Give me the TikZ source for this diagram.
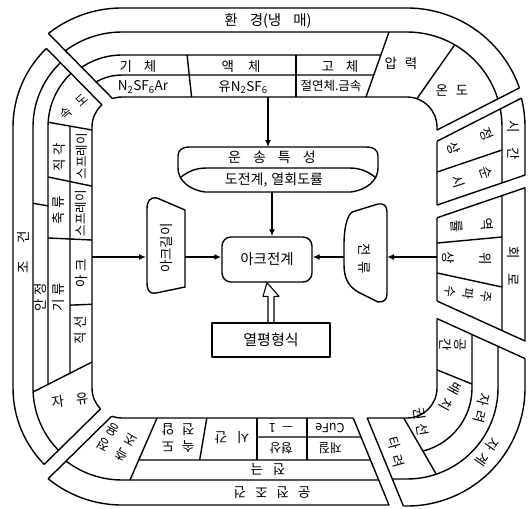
\documentclass[tikz,border=0pt]{standalone}
\usepackage{fontspec}
\newfontfamily\kr{Noto Sans CJK KR}
\usetikzlibrary{calc,arrows.meta}
\def\Lz{92}\def\Tz{97}\def\Rz{437}\def\Bz{418}\def\rz{30}
\newcommand\rrA[1]{[rounded corners={(\rz+#1)*1pt}] (\Lz-#1,\Tz-#1) rectangle (\Rz+#1,\Bz+#1)}
\newcommand\rrB[1]{[rounded corners={(\rz+#1)*1pt}] (\Rz+#1,\Tz-#1) rectangle (\Lz-#1,\Bz+#1)}
\newcommand\wedgeclip[2]{%
  \coordinate (wa) at ($(#1-i)!6!(#1-o)$);
  \coordinate (wb) at ($(#2-i)!6!(#2-o)$);
  \coordinate (wm) at ($(C)!1.5!($(wa)!0.5!(wb)$)$);
  \clip (C) -- (#1-i) -- (wa) -- (wm) -- (wb) -- (#2-i) -- cycle;}
\newcommand\track[3]{\begin{scope}\wedgeclip{#1}{#2}\draw \rrA{#3};\end{scope}}
\newcommand\dv[4]{\begin{scope}\clip \rrA{#4} \rrB{#3};\draw #1 -- #2;\end{scope}}
\newcommand\cut[3]{\dv{(#1-i)}{(#1-o)}{#2}{#3}}
\begin{document}
\begin{tikzpicture}[x=1pt,y=-1pt,line width=1.4pt,line join=round,
  t/.style={font=\kr\fontsize{13.5}{13.5}\selectfont,inner sep=0pt,align=center},
  ts/.style={font=\kr\fontsize{12.5}{12.5}\selectfont,inner sep=0pt,align=center},
  arr/.style={-{Latex[length=7pt,width=6pt]}}]
\useasboundingbox (0,0) rectangle (528,509);
\coordinate (C) at (265,258);
% cut lines (i inside hollow, o outside)
\coordinate (TLa-i) at (127.5,130.8); \coordinate (TLa-o) at (29.5,31.3);
\coordinate (TLb-i) at (136,122.4);   \coordinate (TLb-o) at (38,22.9);
\coordinate (TRa-i) at (414.7,141.4); \coordinate (TRa-o) at (538.4,78.2);
\coordinate (TRb-i) at (419.3,150.3); \coordinate (TRb-o) at (543,87.1);
\coordinate (R1-i) at (413.4,213.1);  \coordinate (R1-o) at (539.2,170.2);
\coordinate (R2-i) at (417.3,224.5);  \coordinate (R2-o) at (543.1,181.6);
\coordinate (R3-i) at (414.3,290.7);  \coordinate (R3-o) at (538.7,347.2);
\coordinate (R4-i) at (407.7,305.3);  \coordinate (R4-o) at (532.1,361.8);
\coordinate (BRb-i) at (356.5,391.9); \coordinate (BRb-o) at (408.7,518.9);
\coordinate (BRa-i) at (344.5,396.8); \coordinate (BRa-o) at (396.7,523.8);
\coordinate (BLa-i) at (135.8,392.5); \coordinate (BLa-o) at (44.3,482.5);
\coordinate (BLb-i) at (126.7,383.2); \coordinate (BLb-o) at (35.2,473.2);
% inner dividers used as wedge edges
\coordinate (P1-i) at (359.3,115.8); \coordinate (P1-o) at (394,17.9);
\coordinate (P2-i) at (404.5,116.4); \coordinate (P2-o) at (464.6,30.7);
\coordinate (Dc1-i) at (165,399.7);  \coordinate (Dc1-o) at (124,493.8);
\coordinate (D3-i) at (257,400);     \coordinate (D3-o) at (257,470);
\coordinate (Dz-i) at (114.3,350.7); \coordinate (Dz-o) at (23.6,396.8);
\coordinate (Dk-i) at (392,397.7);   \coordinate (Dk-o) at (445,489.3);
\coordinate (Dsd-i) at (110,133.2);  \coordinate (Dsd-o) at (30,119);

% ---------- top group: environment ----------
\track{TLb}{TRa}{0}\track{TLb}{TRa}{65}\track{TLb}{TRa}{89}
\track{TLb}{P1}{22}\track{TLb}{P1}{42}
\cut{TLb}{0}{89}\cut{TRa}{0}{89}
\dv{(P1-i)}{(P1-o)}{0}{65}\dv{(P2-i)}{(P2-o)}{0}{65}
\dv{(193,110)}{(186,45)}{0}{42}\dv{(296,110)}{(296,45)}{0}{42}
\node[t,font=\kr\fontsize{14.5}{14.5}\selectfont] (env) at (268,21) {환\hspace{12pt}경(냉\hspace{12pt}매)};
\node[t] (gas) at (138,66) {기\hspace{12pt}체};
\node[t] (liq) at (241,66) {액\hspace{14pt}체};
\node[t] (sol) at (340,66) {고\hspace{12pt}체};
\node[t] (gas2) at (143,87) {N\textsubscript{2}SF\textsubscript{6}Ar};
\node[t] (liq2) at (243,87) {유N\textsubscript{2}SF\textsubscript{6}};
\node[ts] (sol2) at (331,86) {절연체.금속};
\node[t] (pres) at (401,63) {압\hspace{8pt}력};
\node[t] (temp) at (452,90) {온\hspace{8pt}도};

% ---------- time group ----------
\track{TRb}{R1}{0}\track{TRb}{R1}{65}\track{TRb}{R1}{88}
\cut{TRb}{0}{88}\cut{R1}{0}{88}
\dv{(420,177.8)}{(515,145.6)}{0}{65}
\node[t,rotate=-90] (time) at (514,140) {시\hspace{14pt}간};
\node[t,rotate=-67] (steady) at (470,141) {정\\[22pt]상};
\node[t,rotate=-72] (inst) at (472,177) {순\\[16pt]시};

% ---------- circuit group ----------
\track{R2}{R3}{0}\track{R2}{R3}{65}\track{R2}{R3}{88}
\cut{R2}{0}{88}\cut{R3}{0}{88}
\dv{(420,244.6)}{(515,235.8)}{0}{65}\dv{(420,269.3)}{(515,289.8)}{0}{65}
\node[t,rotate=-90] (circ) at (514,266) {회\hspace{14pt}로};
\node[t,rotate=-86] (pf) at (472,225) {역\\[16pt]률};
\node[t,rotate=-91] (phase) at (467,258) {위\\[24pt]상};
\node[ts,rotate=-97] (freq) at (468,294) {주\\[6pt]파\\[6pt]수};

% ---------- magnetic field group ----------
\track{R4}{BRb}{0}\track{R4}{Dk}{35}\track{R4}{BRb}{61}\track{R4}{BRb}{88}
\cut{R4}{0}{88}\cut{BRb}{0}{88}
\dv{(420,363)}{(490,391.3)}{0}{35}
\dv{(Dk-i)}{(Dk-o)}{0}{61}
\node[t,rotate=-90] (space) at (453,345) {공\\[2pt]간};
\node[t,rotate=-119] (wire) at (450,396) {배\hspace{6pt}치};
\node[t,rotate=-81] (coil) at (421,422) {권\hspace{4pt}선};
\node[t,rotate=-75] (tr) at (396,452) {타\hspace{6pt}려};
\node[t,rotate=-105] (self) at (482,408) {자\hspace{5pt}려};
\node[t,rotate=-125] (mag) at (487,452) {자\hspace{6pt}계};

% ---------- bottom group ----------
\track{BRa}{BLa}{0}\track{BRa}{Dc1}{42}\track{BRa}{BLa}{62}\track{BRa}{BLa}{87}
\track{BRa}{D3}{19}
\cut{BRa}{0}{87}\cut{BLa}{0}{87}
\dv{(Dc1-i)}{(Dc1-o)}{0}{62}
\dv{(209,405)}{(198,470)}{0}{42}\dv{(D3-i)}{(D3-o)}{0}{42}\dv{(307,400)}{(307,470)}{0}{42}
\node[t,rotate=150] (bc) at (117,442) {측\hspace{8pt}정\\[4pt]조\hspace{8pt}용};
\node[t,rotate=180] (b2) at (178,438) {속\hspace{8pt}도\\[3pt]전\hspace{8pt}압};
\node[t,rotate=180] (btime) at (232,438) {시\hspace{10pt}간};
\node[ts,rotate=180] (b4a) at (281,428) {—\hspace{6pt}1};
\node[ts,rotate=180] (b4b) at (281,448) {형상};
\node[ts,rotate=180] (b5a) at (330,428) {CuFe};
\node[ts,rotate=180] (b5b) at (330,448) {재질};
\node[t,rotate=180] (elec) at (268,470) {전\hspace{10pt}극};
\node[t,rotate=180] (oper) at (272,493) {운\hspace{9pt}전\hspace{9pt}조\hspace{9pt}건};

% ---------- left group ----------
\track{BLb}{TLa}{0}\track{Dz}{Dsd}{22}\track{Dz}{TLa}{44}\track{BLb}{TLa}{59}\track{BLb}{TLa}{79}
\cut{BLb}{0}{79}\cut{TLa}{0}{79}
\dv{(Dz-i)}{(Dz-o)}{0}{59}
\dv{(60,208)}{(20,201)}{44}{59}
\dv{(Dsd-i)}{(Dsd-o)}{0}{44}
\dv{(100,187.8)}{(40,175.3)}{0}{44}
\dv{(100,240.4)}{(40,237.6)}{0}{44}
\dv{(100,304)}{(60,305.5)}{0}{22}
\node[t,rotate=90] (cond) at (23,252) {조\hspace{18pt}건};
\node[ts,rotate=40] (speed) at (74,107) {속\hspace{9pt}도};
\node[t,rotate=90] (perp) at (59,157) {직\hspace{4pt}각};
\node[ts,rotate=90] (spray1) at (82,156) {스프레이};
\node[t,rotate=90] (axial) at (58,210) {축\hspace{4pt}류};
\node[ts,rotate=90] (spray2) at (81,213) {스프레이};
\node[t,rotate=90] (stab) at (40,297) {안\hspace{4pt}정};
\node[t,rotate=90] (gi) at (58,297) {기\hspace{4pt}류};
\node[t,rotate=90] (arcl) at (81,273) {아\hspace{4pt}크};
\node[t,rotate=90] (strt) at (80,330) {직\hspace{4pt}선};
\node[t,rotate=8] (free) at (70,400) {자\hspace{12pt}유};

% ---------- centre ----------
\draw (205,192) .. controls (190,190) and (178,181) .. (178,168) -- (178,156)
  .. controls (178,150) and (182,147) .. (190,147) -- (366,147)
  .. controls (374,147) and (378,150) .. (378,156) -- (378,168)
  .. controls (378,181) and (366,190) .. (351,192) -- cycle;
\draw (181,177) .. controls (189,171) and (196,168) .. (207,168) -- (349,168)
  .. controls (360,168) and (367,171) .. (375,177);
\node[t,font=\kr\fontsize{14}{14}\selectfont] (tr1) at (272,157) {운\hspace{12pt}송\hspace{12pt}특\hspace{12pt}성};
\node[t,font=\kr\fontsize{14}{14}\selectfont] (tr2) at (274,180) {도전계,\hspace{4pt}열회도률};
\coordinate (trtop) at (268,147);
\coordinate (trbot) at (272,192);
\coordinate (envin) at (268,97);
\node[draw,rounded corners=9pt,minimum width=90pt,minimum height=45pt,t,font=\kr\fontsize{14.5}{14.5}\selectfont] (arc) at (267,259.5) {아크전계};
\draw (185,210) -- (185,287) -- (156,293) .. controls (149,294) and (147,290) .. (147,282)
  -- (147,209) .. controls (147,201) and (150,197) .. (157,198) -- cycle;
\node[t,rotate=90] (alen) at (166,248) {아크길이};
\draw (352,212) -- (378,204) .. controls (384,203) and (387,206) .. (387,212) -- (387,294)
  .. controls (387,300) and (384,302) .. (378,302) -- (360,293)
  .. controls (350,288) and (344,280) .. (344,265) -- (344,245)
  .. controls (344,228) and (347,216) .. (352,212) -- cycle;
\node[t,rotate=-90] (cur) at (365,259) {전\hspace{6pt}류};
\node[draw,minimum width=118pt,minimum height=34pt,t,font=\kr\fontsize{15}{15}\selectfont] (heq) at (271,340) {열평형식};
\coordinate (lin) at (92,257); \coordinate (lsl) at (146,257); \coordinate (lsr) at (185,257);
\coordinate (rin) at (437,257); \coordinate (rsr) at (387,257); \coordinate (rsl) at (344,257);
\draw[arr] (envin) -- (trtop);
\draw[arr] (trbot) -- (arc.north -| trbot);
\draw[arr] (lin) -- (lsl);
\draw[arr] (lsr) -- (arc.west |- lsr);
\draw[arr] (rin) -- (rsr);
\draw[arr] (rsl) -- (arc.east |- rsl);
\draw[line width=1.1pt] ($(heq.north)+(-3,0)$) -- ++(0,-26) -- ++(-5,0) -- (arc.south) -- ($(heq.north)+(8,-26)$) -- ++(-5,0) -- ($(heq.north)+(3,0)$);
\end{tikzpicture}
\end{document}
